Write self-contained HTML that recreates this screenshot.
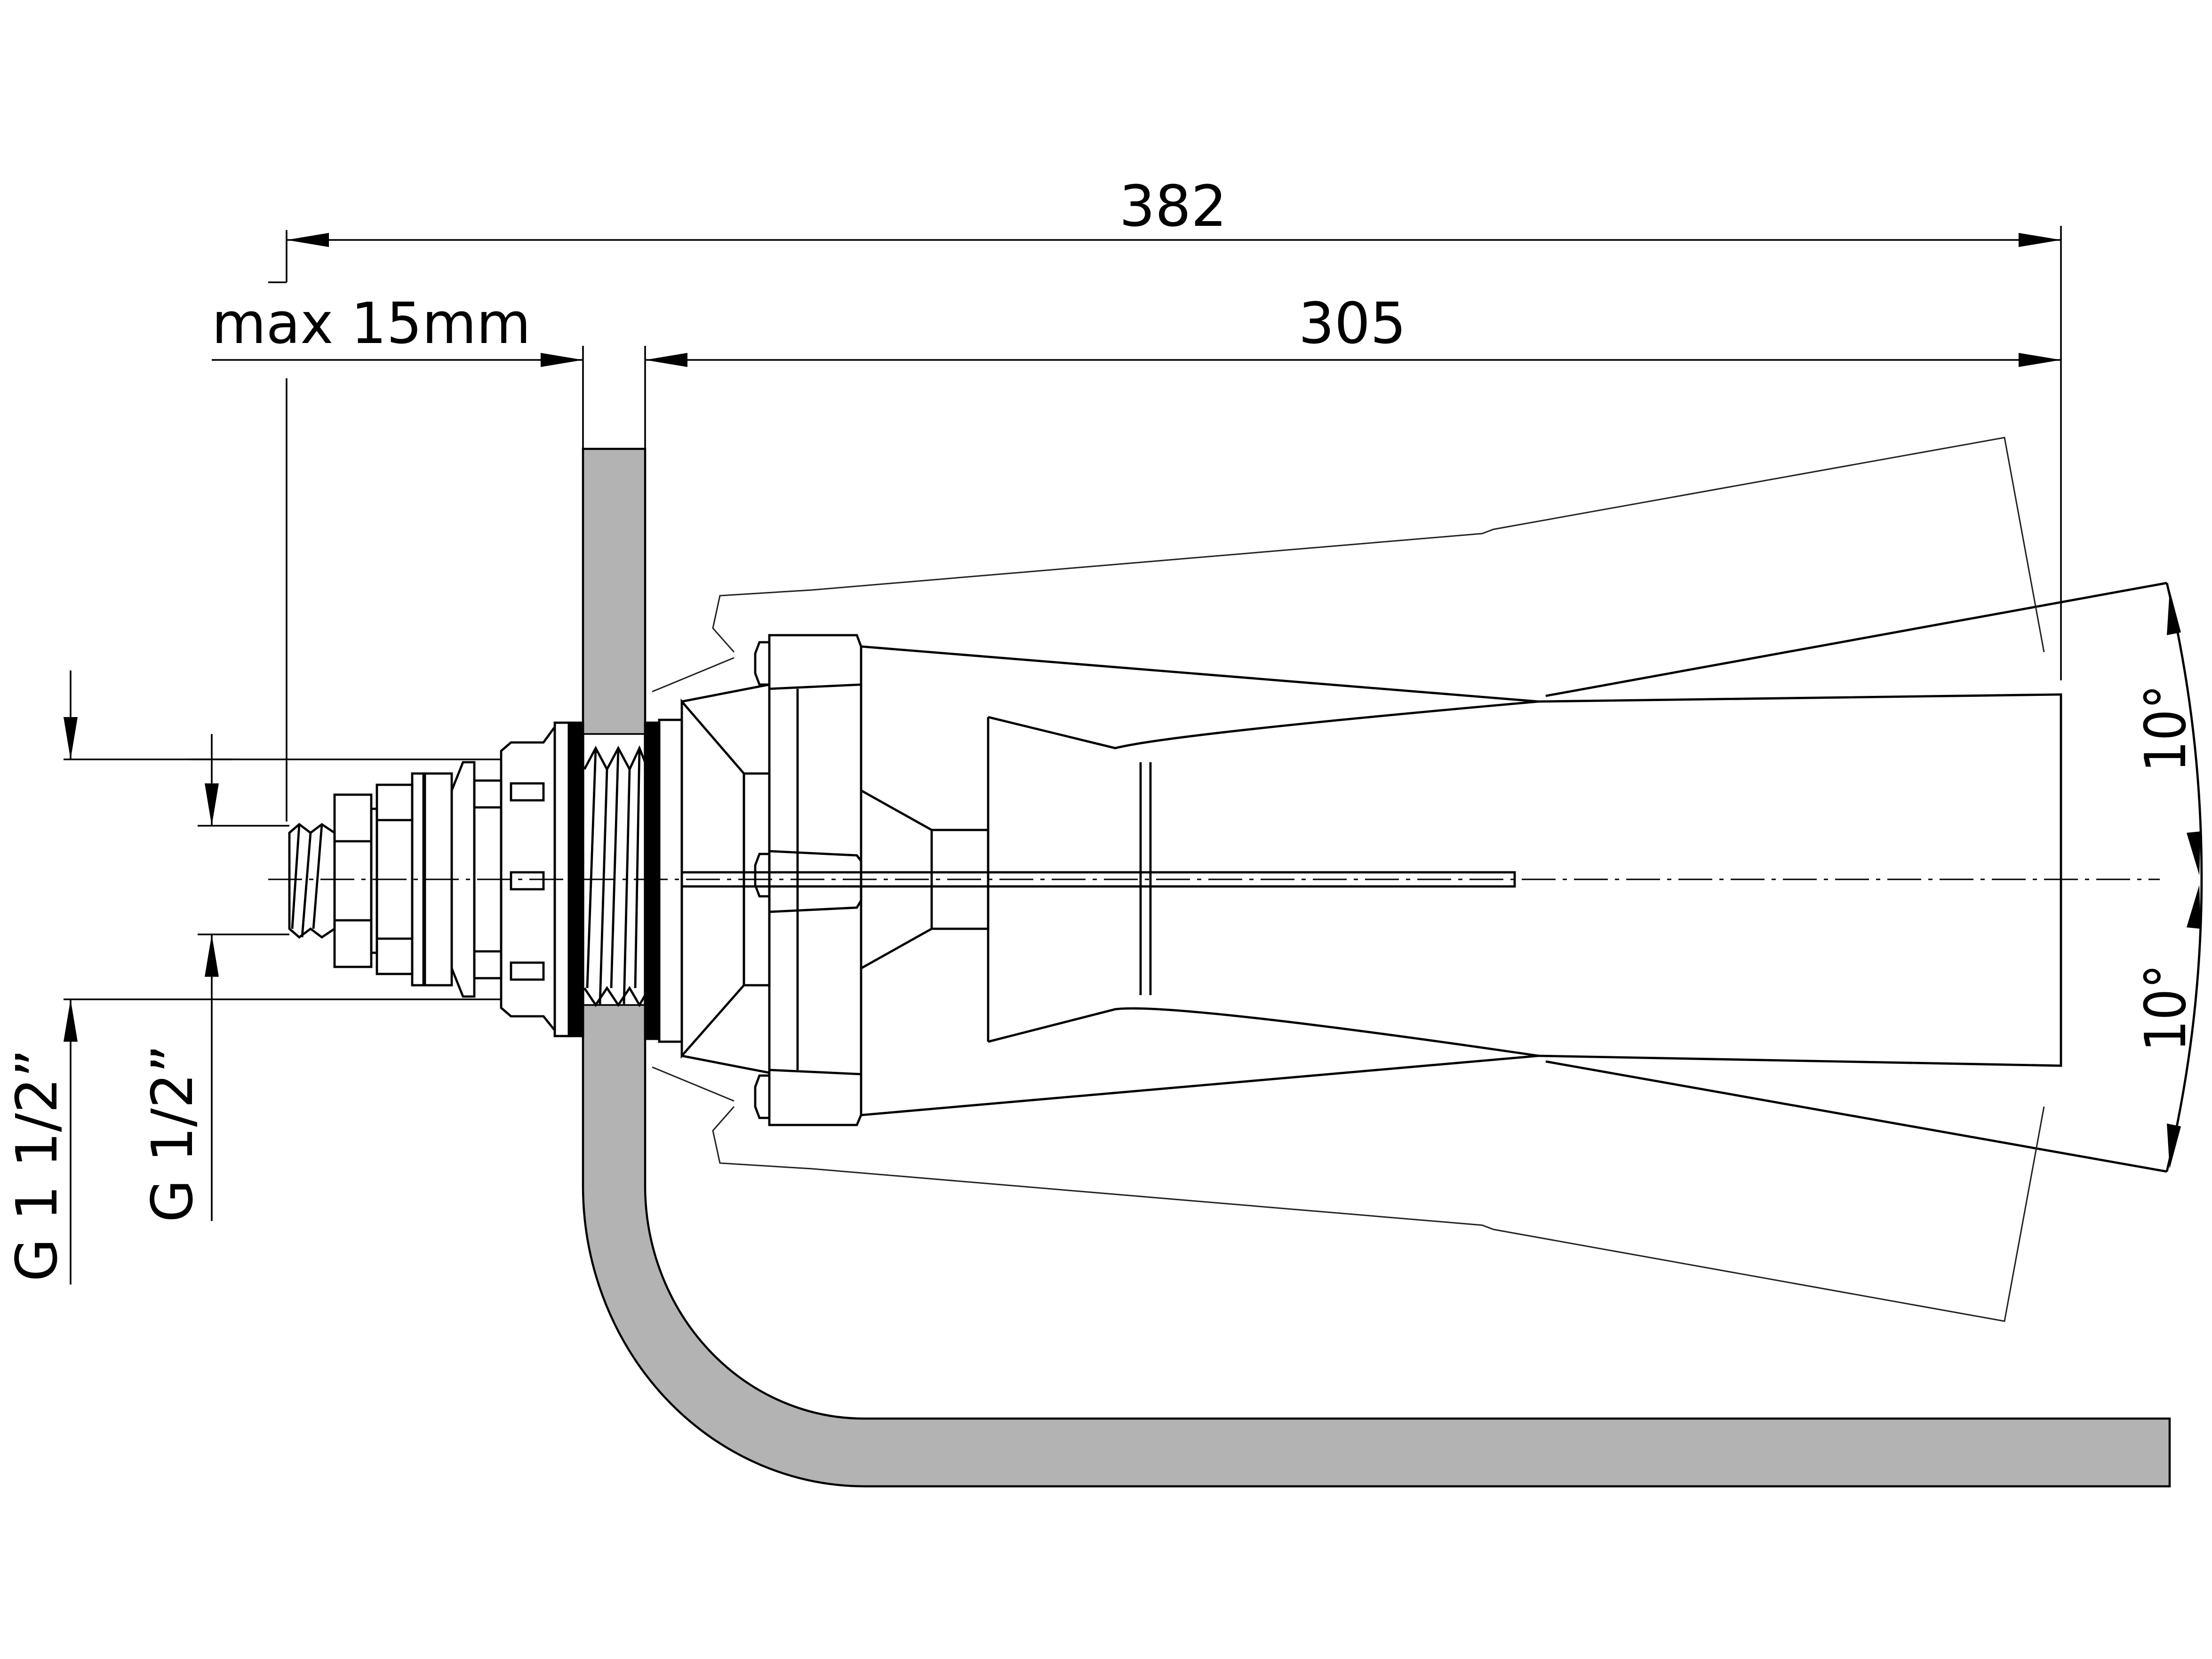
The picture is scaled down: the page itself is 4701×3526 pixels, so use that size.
<!DOCTYPE html>
<html><head><meta charset="utf-8"><style>html,body{margin:0;padding:0;background:#fff}svg{display:block}</style></head>
<body>
<svg width="4701" height="3526" viewBox="0 0 1567 1175.33" xmlns="http://www.w3.org/2000/svg">
<g fill="none" stroke="#000" stroke-width="1.2">
<line x1="203" y1="170" x2="1460" y2="170"/>
<path d="M203,170 l30,-5 v10 z M1460,170 l-30,-5 v10 z" fill="#000" stroke="none"/>
<line x1="203" y1="163" x2="203" y2="200"/>
<line x1="190" y1="200" x2="203" y2="200"/>
<line x1="203" y1="268" x2="203" y2="582"/>
<line x1="1460" y1="160" x2="1460" y2="482"/>
<line x1="150" y1="255" x2="413" y2="255"/>
<path d="M413,255 l-30,-5 v10 z M457,255 l30,-5 v10 z M1460,255 l-30,-5 v10 z" fill="#000" stroke="none"/>
<line x1="457" y1="255" x2="1460" y2="255"/>
<line x1="413" y1="245" x2="413" y2="318"/>
<line x1="457" y1="245" x2="457" y2="318"/>
<line x1="50" y1="475" x2="50" y2="538"/>
<line x1="50" y1="708" x2="50" y2="910"/>
<path d="M50,538 l-5,-30 h10 z M50,708 l-5,30 h10 z" fill="#000" stroke="none"/>
<line x1="45" y1="538" x2="355" y2="538"/>
<line x1="45" y1="708" x2="355" y2="708"/>
<line x1="150" y1="520" x2="150" y2="585"/>
<line x1="150" y1="662" x2="150" y2="865"/>
<path d="M150,585 l-5,-30 h10 z M150,662 l-5,30 h10 z" fill="#000" stroke="none"/>
<line x1="140" y1="585" x2="205" y2="585"/>
<line x1="140" y1="662" x2="205" y2="662"/>
<line x1="135" y1="538" x2="165" y2="538"/>
</g>
<path d="M413,318 V840 A200,213 0 0 0 613,1053 H1537 V1005 H612 A155,165 0 0 1 457,840 V318 Z" fill="#b3b3b3" stroke="#000" stroke-width="1.5"/>
<rect x="414" y="520" width="42" height="192" fill="#fff"/>
<line x1="413" y1="520" x2="457" y2="520" stroke="#000" stroke-width="1.2"/>
<line x1="413" y1="712" x2="457" y2="712" stroke="#000" stroke-width="1.2"/>
<g fill="none" stroke="#000" stroke-width="1.6">
<path d="M414,545 L422,530 L430,545 L438,530 L446,545 L453,530 L457,540"/>
<path d="M414,700 L422,712 L430,700 L438,712 L446,700 L453,712 L457,705"/>
<path d="M422,530 L416,700 M430,545 L425,712 M438,530 L433,700 M446,545 L442,712 M453,530 L450,700"/>
<path d="M205,590 L212,584 L220,590 L228,584 L237,590 V658 L228,664 L220,658 L212,664 L205,658 Z"/>
<path d="M212,584 L207,658 M220,590 L214,664 M228,584 L222,658"/>
<rect x="237" y="563" width="26" height="122"/>
<line x1="237" y1="596" x2="263" y2="596"/><line x1="237" y1="652" x2="263" y2="652"/>
<rect x="263" y="573" width="4" height="102"/>
<rect x="267" y="556" width="25" height="134"/>
<line x1="267" y1="581" x2="292" y2="581"/><line x1="267" y1="665" x2="292" y2="665"/>
<rect x="292" y="548" width="8" height="150"/>
<rect x="301" y="548" width="19" height="150"/>
<path d="M320,560 L328,540 H336 V706 H328 L320,686 Z"/>
<rect x="336" y="553" width="19" height="140"/>
<line x1="336" y1="572" x2="355" y2="572"/><line x1="336" y1="674" x2="355" y2="674"/>
<path d="M355,532 L362,526 H385 L393,515 V730 L385,720 H362 L355,714 Z"/>
<path d="M362,555 h23 v12 h-23 z M362,618 h23 v12 h-23 z M362,682 h23 v12 h-23 z"/>
<rect x="393" y="512" width="10" height="222"/>
<rect x="403" y="512" width="10" height="222" fill="#000"/>
<rect x="457" y="512" width="10" height="224" fill="#000"/>
<rect x="467" y="510" width="16" height="228"/>
<path d="M483,497 L527,548 V698 L483,748 Z"/>
<path d="M483,497 L545,485 M483,748 L545,760"/>
<rect x="527" y="548" width="18" height="150"/>
<path d="M545,450 H607 L610,458 V790 L607,797 H545 Z"/>
<line x1="545" y1="488" x2="610" y2="485"/><line x1="545" y1="758" x2="610" y2="761"/>
<line x1="565" y1="488" x2="565" y2="758"/>
<path d="M545,455 h-7 l-3,8 v14 l3,8 h7 M545,762 h-7 l-3,8 v14 l3,8 h7"/>
<path d="M545,605 h-7 l-3,8 v14 l3,8 h7"/>
<path d="M545,603 L607,606 L610,610 V638 L607,643 L545,646 Z"/>
<rect x="483" y="618" width="590" height="10"/>
<path d="M610,560 L660,588 M610,686 L660,658"/>
<rect x="660" y="588" width="40" height="70"/>
<path d="M610,458 L1090,497 L1460,492 V755 L1090,748 L610,790"/>
<path d="M700,508 V738 M700,508 L790,530 Q830,520 1090,497 M700,738 L790,715 Q830,710 1090,748"/>
<path d="M808,540 V705 M815,540 V705"/>
<path d="M1095,493 L1535,413 M1095,752 L1535,830"/>
<path d="M1535,413 A894.5,894.5 0 0 1 1535,830"/>
</g>
<path d="M1537,418 l-2,32 l10,-2 z M1558,620 l-9,-30 l10,-1 z M1558,627 l-9,30 l10,1 z M1537,828 l-2,-32 l10,2 z" fill="#000"/>
<g fill="none" stroke="#222" stroke-width="1">
<path d="M520,462 L505,445 L510,422 L575,418 L1050,378 L1058,375 L1420,310 L1448,462"/>
<path d="M462,490 L520,466"/>
<path d="M520,784 L505,801 L510,824 L575,828 L1050,868 L1058,871 L1420,936 L1448,784"/>
<path d="M462,756 L520,780"/>
</g>
<line x1="190" y1="623" x2="1530" y2="623" stroke="#000" stroke-width="1" stroke-dasharray="24,5,3,5"/>
<g font-family="'DejaVu Sans','Liberation Sans',sans-serif" font-size="40" fill="#000">
<text x="831" y="160" text-anchor="middle">382</text>
<text x="958" y="243" text-anchor="middle">305</text>
<text x="150" y="243" textLength="226" lengthAdjust="spacingAndGlyphs">max 15mm</text>
<text transform="translate(40,908) rotate(-90)" textLength="165" lengthAdjust="spacingAndGlyphs">G 1 1/2”</text>
<text transform="translate(136,866) rotate(-90)" textLength="126" lengthAdjust="spacingAndGlyphs">G 1/2”</text>
<text transform="translate(1548,547) rotate(-90)" textLength="62" lengthAdjust="spacingAndGlyphs">10°</text>
<text transform="translate(1548,745) rotate(-90)" textLength="62" lengthAdjust="spacingAndGlyphs">10°</text>
</g>
</svg>
</body></html>
